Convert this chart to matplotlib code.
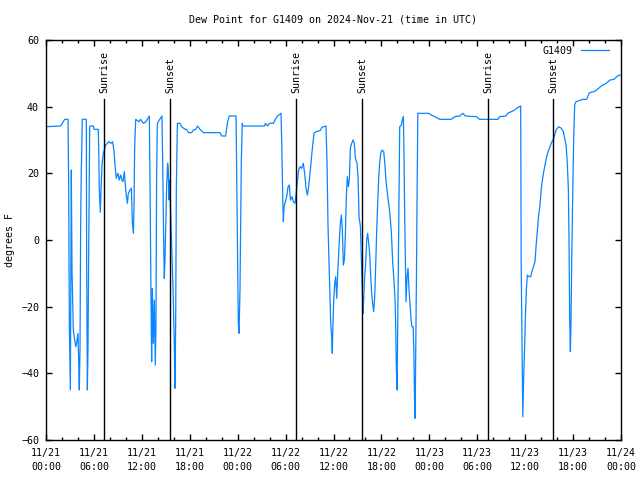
import numpy as np
import pandas as pd
import matplotlib
matplotlib.use('Agg')
import matplotlib.pyplot as plt
import matplotlib.dates as mdates

# Data: hours since 2024-11-21 00:00 UTC, dew point (F)
hours = [0.0, 1.84, 2.34, 2.76, 2.84, 2.92, 3.05, 3.17, 3.26, 3.42, 3.59, 3.72, 3.84, 4.0, 4.09, 4.17,
         4.26, 4.34, 4.42, 4.55, 5.05, 5.09, 5.18, 5.26, 5.34, 5.47, 5.51, 5.93, 6.01, 6.55, 6.60, 6.68,
         6.80, 6.89, 7.01, 7.14, 7.30, 7.47, 7.89, 8.10, 8.35, 8.52, 8.64, 8.80, 9.01, 9.18, 9.35, 9.51,
         9.64, 9.81, 9.98, 10.19, 10.31, 10.52, 10.69, 10.81, 10.94, 11.02, 11.10, 11.23, 11.65, 11.85,
         12.19, 12.52, 12.94, 13.02, 13.15, 13.23, 13.31, 13.44, 13.56, 13.69, 13.77, 13.85, 13.94, 14.19,
         14.52, 14.60, 14.73, 14.81, 14.90, 14.98, 15.11, 15.23, 15.31, 15.40, 15.48, 15.66, 15.78, 15.91,
         16.07, 16.15, 16.24, 16.32, 16.45, 16.78, 16.99, 17.41, 17.62, 17.83, 18.24, 18.45, 18.74, 18.99,
         19.28, 19.70, 21.79, 22.0, 22.5, 22.7, 22.95, 23.8, 23.87, 24.0, 24.08, 24.17, 24.29, 24.37,
         24.46, 24.58, 24.62, 27.35, 27.48, 27.76, 27.97, 28.47, 28.72, 29.0, 29.43, 29.51, 29.64, 29.72,
         29.81, 29.97, 30.14, 30.31, 30.47, 30.60, 30.81, 30.97, 31.18, 31.35, 31.47, 31.64, 31.81, 32.02,
         32.22, 32.39, 32.56, 32.73, 32.89, 33.06, 33.31, 33.56, 33.81, 34.31, 34.56, 35.06, 35.19, 35.31,
         35.48, 35.65, 35.77, 35.85, 35.90, 36.02, 36.15, 36.27, 36.40, 36.48, 36.61, 36.73, 36.86, 36.98,
         37.11, 37.23, 37.36, 37.48, 37.61, 37.73, 37.86, 37.98, 38.11, 38.28, 38.44, 38.61, 38.74, 38.95,
         39.07, 39.20, 39.37, 39.49, 39.69, 39.78, 39.90, 40.03, 40.15, 40.28, 40.40, 40.53, 40.65, 40.78,
         40.90, 41.03, 41.16, 41.28, 41.41, 41.53, 41.66, 41.78, 41.91, 42.08, 42.29, 42.41, 42.58, 42.75,
         42.91, 43.08, 43.25, 43.42, 43.58, 43.70, 43.79, 43.87, 43.96, 44.04, 44.12, 44.21, 44.29, 44.50,
         44.62, 44.75, 44.83, 44.92, 45.00, 45.08, 45.21, 45.33, 45.46, 45.58, 45.71, 45.83, 45.97, 46.06,
         46.14, 46.22, 46.31, 46.39, 46.47, 46.56, 47.9, 48.25, 48.7, 49.3, 50.75, 51.2, 51.8, 52.2, 52.5,
         53.9, 54.3, 56.6, 56.8, 57.6, 57.8, 58.7, 58.9, 59.44, 59.5, 59.65, 59.70, 59.74, 59.82, 59.94,
         60.03, 60.15, 60.27, 60.48, 60.69, 60.90, 61.11, 61.23, 61.36, 61.52, 61.69, 61.86, 62.02, 62.19,
         62.36, 62.53, 62.69, 62.86, 63.11, 63.36, 63.53, 63.70, 63.86, 64.20, 64.53, 64.78, 64.95, 65.12,
         65.28, 65.41, 65.49, 65.57, 65.66, 65.74, 65.83, 65.95, 66.08, 66.20, 66.37, 66.95, 67.28, 67.70,
         68.04, 68.62, 69.04, 69.54, 70.13, 70.63, 71.13, 71.55, 71.97]
dewpt = [34, 34.2, 36.2, 36.2, 16, -25, -45, 21, -9.5, -27, -30, -32, -31, -28, -36, -45,
         -32, 5, 21, 36.2, 36.2, -5, -45, -32, -5, 33.5, 34.2, 34.2, 33.2, 33.2, 27, 15,
         8.3, 15, 22.5, 25.5, 27, 28.5, 29.5, 29, 29.5, 26.5, 22.5, 18.5, 20, 18, 19.5, 18,
         17.5, 20.5, 15, 11, 14, 15, 15.5, 5.5, 2, 10, 27.5, 36.2, 35.5, 36.2,
         35, 35.5, 37.2, 18.5, -18, -36.5, -14.5, -31, -18, -37.5, -25, 19, 35, 36,
         37.2, 25, 0.5, -11.5, -6, 3, 16, 23, 21, 12, 18, 4, -5, -15,
         -32, -44.5, -24, 15, 35, 35, 34, 33.2, 33.2, 32.2, 32.2, 33, 33.2, 34.2,
         33.2, 32.2, 32.2, 31.2, 31.2, 35, 37.2, 37.2, 21.5, -9, -25, -28, -15, 3,
         24, 35, 34.2, 34.2, 35, 34.2, 35, 35, 36.2, 37.2, 38, 29.5, 13.5, 5.5,
         10, 11.5, 13, 16, 16.5, 12, 13, 11.5, 11, 14.5, 17.5, 21, 22, 21.5,
         23, 20, 15.5, 13.5, 16, 20, 26.5, 32, 32.5, 32.8, 33.8, 34.2, 23, 4.5,
         -10, -25, -29, -34, -28, -18.5, -13, -11, -17.5, -12.5, -6, 0, 5, 7.5,
         3, -7.5, -6, 1, 13, 19, 16, 18, 27.5, 29, 30, 29, 24.5, 23,
         19, 7, 4, -6, -22, -18, -11, -7, 0, 2, -1, -4, -10.5, -16,
         -19, -21.5, -17, -8, 3, 11, 18.5, 23, 26, 27, 26.5, 23.5, 17.5, 14,
         11, 7.5, 2, -7, -12.5, -17.5, -26, -38.5, -45, -25, -7, 14.5, 34, 34.5,
         36, 37, 25, 6.5, -7, -18.5, -11, -8.5, -15, -19, -24, -26, -26, -33,
         -47, -53.5, -31.5, -10, 15, 38, 38, 37.5, 37, 36.2, 36.2, 37, 37.2, 38, 37.2,
         37, 36.2, 36.2, 37, 37.2, 38, 39, 39.5, 40.2, -6.5, -41, -53, -48.5, -40.5, -31.5,
         -23, -15, -10.5, -11, -11, -9, -7.5, -6.5, -2, 2.5, 7.5, 10.5, 15.5, 18.5,
         21, 23, 25, 26.5, 28, 29.5, 30.2, 31.5, 33, 34, 33.5, 32.5, 30.5, 28.5,
         23, 15, 0, -22.5, -33.5, -24.5, -6, 13, 31, 40.5, 41.5, 42, 42.2, 42.2,
         44.2, 44.5, 45.2, 46.2, 47, 48, 48.2, 49.2, 49.5]

sun_times = ['2024-11-21 07:18', '2024-11-21 15:34', '2024-11-22 07:21',
             '2024-11-22 15:37', '2024-11-23 07:23', '2024-11-23 15:32']
sun_labels = ['Sunrise', 'Sunset', 'Sunrise', 'Sunset', 'Sunrise', 'Sunset']

start = pd.Timestamp('2024-11-21 00:00')
end = pd.Timestamp('2024-11-24 00:00')
times = start + pd.to_timedelta(hours, unit='h')

mono = 'DejaVu Sans Mono'
fs = 7.2

fig = plt.figure(figsize=(6.4, 4.8), dpi=100, facecolor='white')
ax = fig.add_axes([46/640, 40/480, 575/640, 400/480])

ax.plot(times, dewpt, color='#0a84ff', lw=0.9, label='G1409')

# Sunrise / sunset markers
for t, lab in zip(sun_times, sun_labels):
    tt = pd.Timestamp(t)
    ax.plot([tt, tt], [-60, 42.3], color='black', lw=1.0)
    ax.text(tt, 44.2, lab, rotation=90, ha='center', va='bottom',
            fontsize=fs, family=mono)

ax.set_xlim(start, end)
ax.set_ylim(-60, 60)

major = pd.date_range(start, end, freq='6h')
ax.set_xticks(major)
ax.set_xticklabels([d.strftime('%m/%d\n%H:%M') for d in major])
ax.xaxis.set_minor_locator(mdates.HourLocator(byhour=range(0, 24, 2)))
ax.set_yticks(np.arange(-60, 61, 20))

ax.tick_params(which='both', direction='in', top=True, right=True, width=1.0)
ax.tick_params(which='major', length=4.0)
ax.tick_params(which='minor', length=2.2)
ax.tick_params(axis='x', pad=6)
ax.tick_params(axis='y', pad=5)
for lbl in ax.get_xticklabels() + ax.get_yticklabels():
    lbl.set_family(mono)
    lbl.set_fontsize(fs)
for lbl in ax.get_xticklabels():
    lbl.set_linespacing(1.45)
for s in ax.spines.values():
    s.set_linewidth(1.0)

leg = ax.legend(loc='upper right', bbox_to_anchor=(0.986, 0.995), frameon=False,
                markerfirst=False, handlelength=2.8, borderaxespad=0,
                prop={'family': mono, 'size': fs})

fig.text(333/640, 1 - 19/480, 'Dew Point for G1409 on 2024-Nov-21 (time in UTC)',
         ha='center', va='center', fontsize=fs, family=mono)
fig.text(10/640, 0.5, 'degrees F', rotation=90, ha='center', va='center',
         fontsize=fs, family=mono)

fig.savefig('out.png', dpi=100)
